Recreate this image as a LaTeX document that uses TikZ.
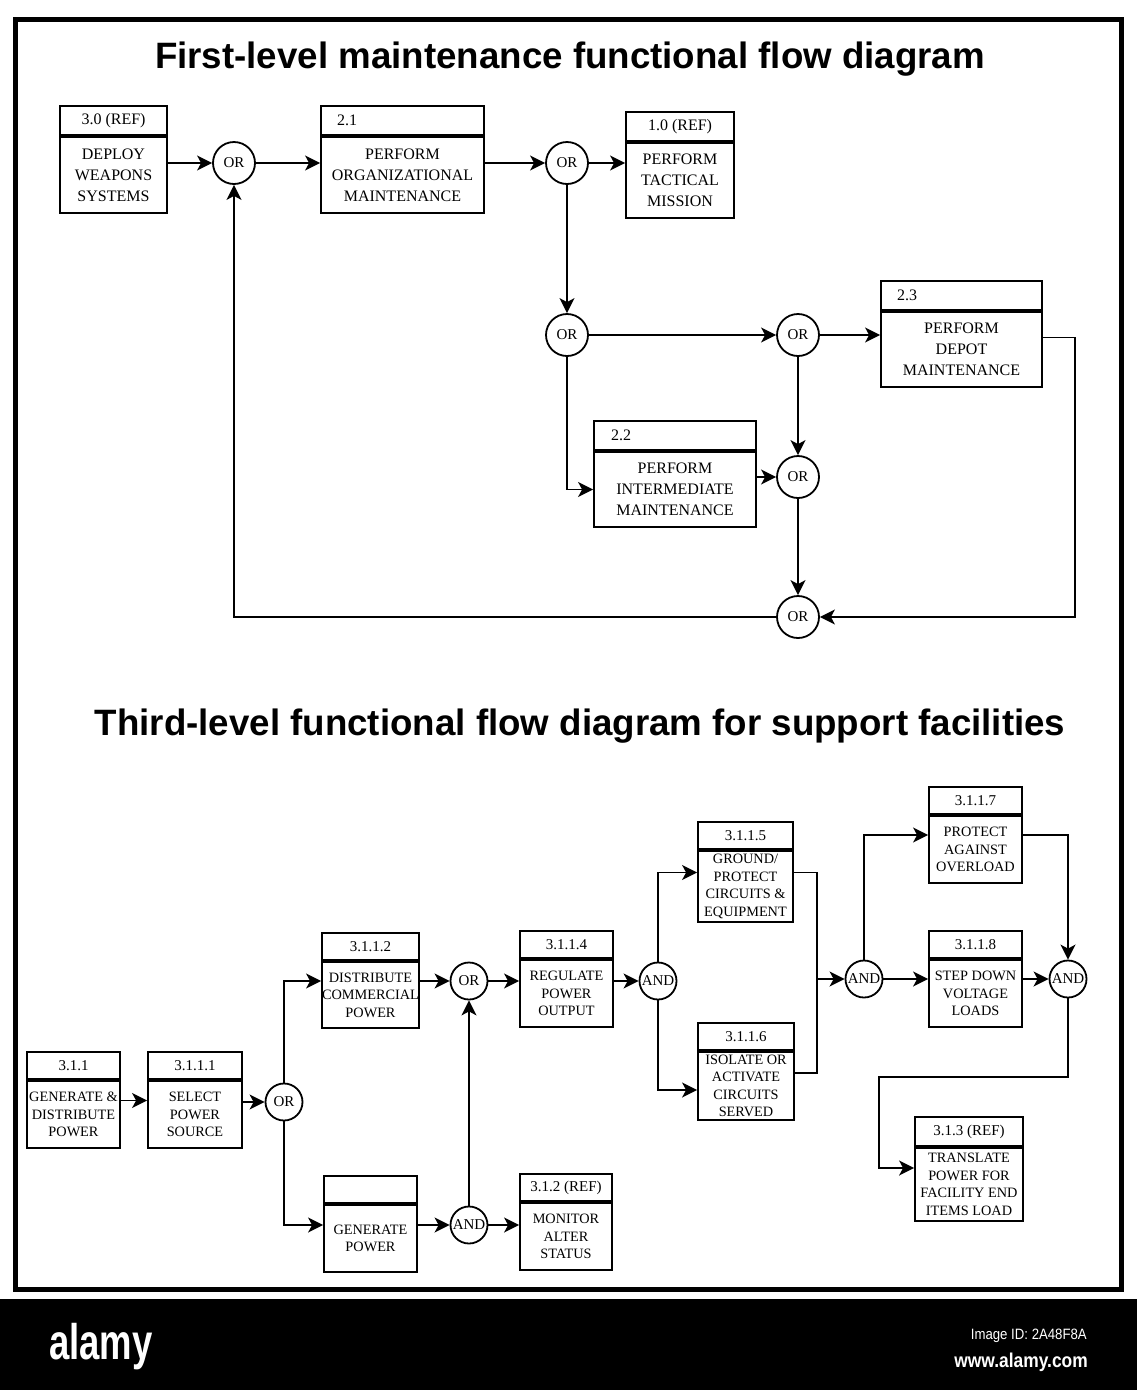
\documentclass[tikz,border=0pt]{standalone}
\usepackage{fontspec}
\setmainfont{Liberation Serif}
\newfontfamily\headfont{Liberation Sans}
\usetikzlibrary{arrows.meta, positioning}

\begin{document}
\begin{tikzpicture}[x=1pt, y=-1pt,
  fbody/.style={draw, line width=1.8pt, inner sep=0pt, align=center},
  fhead/.style={draw, line width=1.8pt, inner sep=0pt},
  tbody/.style={fbody, font=\fontsize{16}{21}\selectfont},
  thead/.style={fhead, minimum height=29pt, font=\fontsize{16}{19}\selectfont},
  bbody/.style={fbody, font=\fontsize{14.3}{17.5}\selectfont},
  bhead/.style={fhead, minimum height=27pt, font=\fontsize{15}{18}\selectfont},
  gate/.style={circle, draw, line width=1.8pt, inner sep=0pt, minimum size=#1, font=\fontsize{15}{15}\selectfont},
  gate/.default=42pt,
  flow/.style={line width=1.8pt, -{Stealth[length=15pt, width=15pt, inset=4pt]}},
  link/.style={line width=1.8pt},
  title/.style={font=\headfont\bfseries\fontsize{36.7}{40}\selectfont, anchor=base, inner sep=0pt}
]
  \useasboundingbox (0,0) rectangle (1137,1390);

  % Frame and footer bar
  \draw[line width=5pt] (15,19) rectangle (1121,1289);
  \fill[black] (0,1299) rectangle (1137,1390);
  \node[font=\headfont\bfseries\fontsize{50}{50}\selectfont, text=white, anchor=base west, inner sep=0pt] (logo) at (49,1359) {\scalebox{0.73}[1]{alamy}};
  \node[font=\headfont\fontsize{15}{15}\selectfont, text=white, anchor=base east, inner sep=0pt] (imgid) at (1087,1339) {\scalebox{0.88}[1]{Image ID: 2A48F8A}};
  \node[font=\headfont\bfseries\fontsize{20}{20}\selectfont, text=white, anchor=base east, inner sep=0pt] (site) at (1088,1367) {\scalebox{0.87}[1]{www.alamy.com}};

  % Titles
  \node[title] (t1) at (570,68) {First-level maintenance functional flow diagram};
  \node[title] (t2) at (580,735) {Third-level functional flow diagram for support facilities};

  % First-level: function blocks
  \node[tbody, minimum width=107pt, minimum height=76pt] (b30) at (113.5,175) {DEPLOY\\WEAPONS\\SYSTEMS};
  \node[thead, minimum width=107pt, above=0pt of b30] (b30h) {3.0 (REF)};
  \node[tbody, minimum width=163pt, minimum height=76pt] (b21) at (402.5,175) {PERFORM\\ORGANIZATIONAL\\MAINTENANCE};
  \node[thead, minimum width=163pt, text width=131pt, align=left, above=0pt of b21] (b21h) {2.1};
  \node[tbody, minimum width=108pt, minimum height=75pt] (b10) at (680,180.5) {PERFORM\\TACTICAL\\MISSION};
  \node[thead, minimum width=108pt, above=0pt of b10] (b10h) {1.0 (REF)};
  \node[tbody, minimum width=161pt, minimum height=75pt] (b23) at (961.5,349.5) {PERFORM\\DEPOT\\MAINTENANCE};
  \node[thead, minimum width=161pt, text width=129pt, align=left, above=0pt of b23] (b23h) {2.3};
  \node[tbody, minimum width=162pt, minimum height=75pt] (b22) at (675,489.5) {PERFORM\\INTERMEDIATE\\MAINTENANCE};
  \node[thead, minimum width=162pt, text width=128pt, align=left, above=0pt of b22] (b22h) {2.2};

  % First-level: OR gates
  \node[gate] (or1) at (234,163) {OR};
  \node[gate] (or2) at (567,163) {OR};
  \node[gate] (or3) at (567,335) {OR};
  \node[gate] (or4) at (798,335) {OR};
  \node[gate] (or5) at (798,477) {OR};
  \node[gate] (or6) at (798,617) {OR};
  \coordinate (ret) at (1075,617);

  % First-level: flow
  \draw[flow] (b30.east |- or1) -- (or1);
  \draw[flow] (or1) -- (or1 -| b21.west);
  \draw[flow] (b21.east |- or2) -- (or2);
  \draw[flow] (or2) -- (or2 -| b10.west);
  \draw[flow] (or2) -- (or3);
  \draw[flow] (or3) -- (or4);
  \draw[flow] (or4) -- (or4 -| b23.west);
  \draw[flow] (or3) |- (b22.west);
  \draw[flow] (b22.east |- or5) -- (or5);
  \draw[flow] (or4) -- (or5);
  \draw[flow] (or5) -- (or6);
  \draw[flow] ([yshift=12pt]b23.east) -| (ret) -- (or6);
  \draw[flow] (or6) -| (or1);

  % Third-level: function blocks
  \node[bbody, minimum width=93pt, minimum height=67pt] (c311) at (73.5,1114.5) {GENERATE \&\\DISTRIBUTE\\POWER};
  \node[bhead, minimum width=93pt, above=0pt of c311] (c311h) {3.1.1};
  \node[bbody, minimum width=94pt, minimum height=67pt] (c3111) at (195,1114.5) {SELECT\\POWER\\SOURCE};
  \node[bhead, minimum width=94pt, above=0pt of c3111] (c3111h) {3.1.1.1};
  \node[bbody, minimum width=97pt, minimum height=66pt] (c3112) at (370.5,995) {DISTRIBUTE\\COMMERCIAL\\POWER};
  \node[bhead, minimum width=97pt, above=0pt of c3112] (c3112h) {3.1.1.2};
  \node[bbody, minimum width=93pt, minimum height=67pt] (cgen) at (370.5,1238.5) {GENERATE\\POWER};
  \node[bhead, minimum width=93pt, above=0pt of cgen] (cgenh) {};
  \node[bbody, minimum width=92pt, minimum height=67pt] (c312) at (566,1236.5) {MONITOR\\ALTER\\STATUS};
  \node[bhead, minimum width=92pt, above=0pt of c312] (c312h) {3.1.2 (REF)};
  \node[bbody, minimum width=93pt, minimum height=67pt] (c3114) at (566.5,993.5) {REGULATE\\POWER\\OUTPUT};
  \node[bhead, minimum width=93pt, above=0pt of c3114] (c3114h) {3.1.1.4};
  \node[bbody, minimum width=95pt, minimum height=71pt] (c3115) at (745.5,886.5) {GROUND/\\PROTECT\\CIRCUITS \&\\EQUIPMENT};
  \node[bhead, minimum width=95pt, above=0pt of c3115] (c3115h) {3.1.1.5};
  \node[bbody, minimum width=96pt, minimum height=68pt] (c3116) at (746,1086) {ISOLATE OR\\ACTIVATE\\CIRCUITS\\SERVED};
  \node[bhead, minimum width=96pt, above=0pt of c3116] (c3116h) {3.1.1.6};
  \node[bbody, minimum width=93pt, minimum height=67pt] (c3117) at (975.5,849.5) {PROTECT\\AGAINST\\OVERLOAD};
  \node[bhead, minimum width=93pt, above=0pt of c3117] (c3117h) {3.1.1.7};
  \node[bbody, minimum width=93pt, minimum height=67pt] (c3118) at (975.5,993.5) {STEP DOWN\\VOLTAGE\\LOADS};
  \node[bhead, minimum width=93pt, above=0pt of c3118] (c3118h) {3.1.1.8};
  \node[bbody, minimum width=108pt, minimum height=73pt] (c313) at (969,1184.5) {TRANSLATE\\POWER FOR\\FACILITY END\\ITEMS LOAD};
  \node[bhead, minimum width=108pt, minimum height=29pt, above=0pt of c313] (c313h) {3.1.3 (REF)};

  % Third-level: gates
  \node[gate=37pt] (g1) at (284,1102) {OR};
  \node[gate=37pt] (g2) at (469,981) {OR};
  \node[gate=37pt] (g3) at (469,1225) {AND};
  \node[gate=37pt] (g4) at (658,981) {AND};
  \node[gate=37pt] (g5) at (864,979) {AND};
  \node[gate=37pt] (g6) at (1068,979) {AND};
  \coordinate (jn) at (817,979);
  \coordinate (bend) at (879,1077);

  % Third-level: flow
  \draw[flow] ([yshift=14pt]c311.east) -- ([yshift=14pt]c3111.west);
  \draw[flow] (c3111.east |- g1) -- (g1);
  \draw[flow] (g1) |- (c3112.west |- g2);
  \draw[flow] (g1) |- (cgen.west |- g3);
  \draw[flow] (c3112.east |- g2) -- (g2);
  \draw[flow] (cgen.east |- g3) -- (g3);
  \draw[flow] (g3) -- (g2);
  \draw[flow] (g3) -- (g3 -| c312.west);
  \draw[flow] (g2) -- (g2 -| c3114.west);
  \draw[flow] (c3114.east |- g4) -- (g4);
  \draw[flow] (g4) |- ([yshift=14pt]c3115.west);
  \draw[flow] (g4) |- ([yshift=-4pt]c3116.west);
  \draw[link] ([yshift=14pt]c3115.east) -| (jn);
  \draw[link] ([yshift=13pt]c3116.east) -| (jn);
  \draw[flow] (jn) -- (g5);
  \draw[flow] (g5) |- ([yshift=14.5pt]c3117.west);
  \draw[flow] (g5) -- (g5 -| c3118.west);
  \draw[flow] ([yshift=14.5pt]c3117.east) -| (g6);
  \draw[flow] (c3118.east |- g6) -- (g6);
  \draw[flow] (g6) |- (bend) |- ([yshift=16.5pt]c313.west);
\end{tikzpicture}
\end{document}
